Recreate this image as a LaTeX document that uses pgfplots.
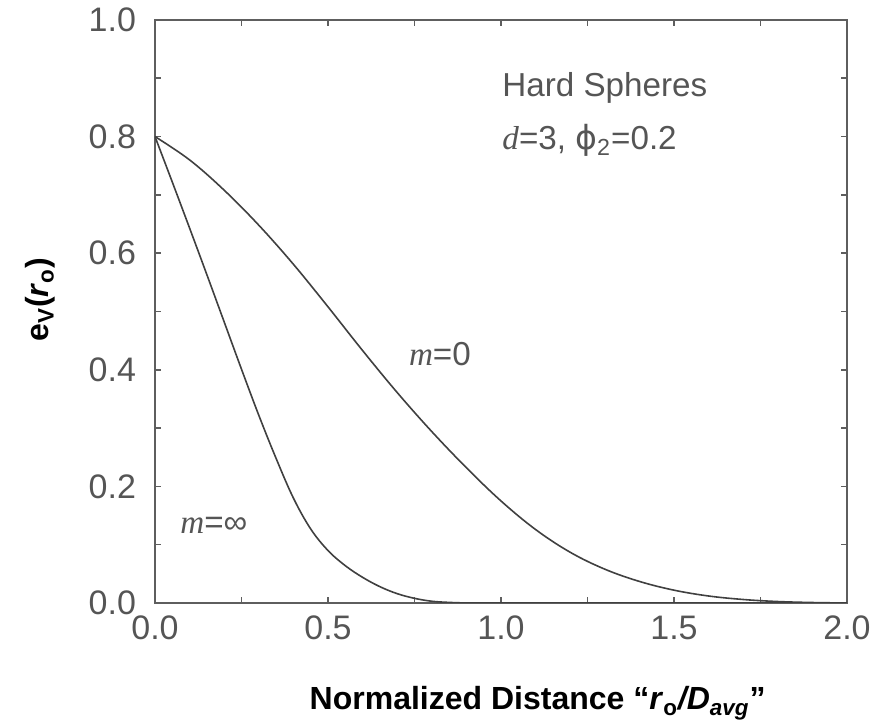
\documentclass[border=0pt]{standalone}
\usepackage{fontspec}
\setmainfont{Liberation Sans}
\newfontfamily\serifit{Liberation Serif}[ItalicFont=* Italic]
\newfontfamily\dejavu{DejaVu Sans}
\usepackage{pgfplots}
\pgfplotsset{compat=1.18}
\definecolor{axgray}{HTML}{5E5E5E}
\definecolor{txtgray}{HTML}{555555}
\definecolor{crv}{HTML}{404040}
\begin{document}
\begin{tikzpicture}
\useasboundingbox (-77.5pt,-59pt) rectangle (359pt,301.5pt);
\begin{axis}[
  at={(0,0)}, anchor=south west,
  scale only axis, width=346pt, height=291.5pt,
  xmin=0, xmax=2, ymin=0, ymax=1,
  xtick={0,0.5,1,1.5,2}, ytick={0,0.2,0.4,0.6,0.8,1.0},
  minor x tick num=1, minor y tick num=1,
  tick align=inside, major tick length=3pt, minor tick length=3pt,
  axis line style={axgray, line width=1pt},
  tick style={axgray, line width=0.8pt},
  every tick label/.append style={font=\fontsize{17}{20}\selectfont, text=txtgray},
  yticklabel shift=6pt, xticklabel shift=3pt,
  /pgf/number format/.cd, fixed, fixed zerofill, precision=1, assume math mode=true,
  /pgfplots/.cd,
  xlabel={\bfseries Normalized Distance “\textit{r}\textsubscript{o}\textit{/D}\textsubscript{\textit{avg}}”},
  xlabel style={at={(axis description cs:0.553,-0.172)}, anchor=center, font=\fontsize{16}{19}\selectfont, text=black},
  ylabel={\bfseries e\textsubscript{V}(\textit{r}\textsubscript{o})},
  ylabel style={at={(axis description cs:-0.166,0.52)}, anchor=center, rotate=0, font=\fontsize{16}{19}\selectfont, text=black},
]
% m = 0
\addplot[crv, line width=0.8pt, smooth, tension=0.6] coordinates {
(0,0.800) (0.1,0.760) (0.2,0.708) (0.3,0.648) (0.4,0.581) (0.5,0.508)
(0.6,0.433) (0.7,0.361) (0.8,0.294) (0.9,0.232) (1.0,0.175) (1.1,0.126)
(1.2,0.087) (1.3,0.058) (1.4,0.037) (1.5,0.022) (1.6,0.012) (1.7,0.006)
(1.8,0.0025) (1.9,0.0008) (2.0,0.0)};
% m = infinity
\addplot[crv, line width=0.8pt, smooth, tension=0.6] coordinates {
(0,0.800) (0.05,0.722) (0.10,0.643) (0.15,0.563) (0.20,0.482) (0.25,0.401)
(0.30,0.322) (0.35,0.248) (0.40,0.180) (0.45,0.127) (0.50,0.090) (0.55,0.064)
(0.60,0.044) (0.65,0.028) (0.70,0.016) (0.75,0.008) (0.80,0.003) (0.85,0.001) (0.90,0.0)};
\addplot[crv, line width=0.8pt] coordinates {(0.90,0.0) (2.0,0.0)};
\node[anchor=base west, text=txtgray, font=\fontsize{16.6}{20}\selectfont, inner sep=0pt] at (axis cs:1.003,0.868) {Hard Spheres};
\node[anchor=base west, text=txtgray, font=\fontsize{16.6}{20}\selectfont, inner sep=0pt] at (axis cs:1.003,0.777) {{\serifit\itshape d}=3, {\dejavu ϕ}\textsubscript{2}=0.2};
\node[anchor=base west, text=txtgray, font=\fontsize{16.6}{20}\selectfont, inner sep=0pt] at (axis cs:0.733,0.408) {{\serifit\itshape m}=0};
\node[anchor=base west, text=txtgray, font=\fontsize{16.6}{20}\selectfont, inner sep=0pt] at (axis cs:0.072,0.12) {{\serifit\itshape m}=∞};
\end{axis}
\end{tikzpicture}
\end{document}
